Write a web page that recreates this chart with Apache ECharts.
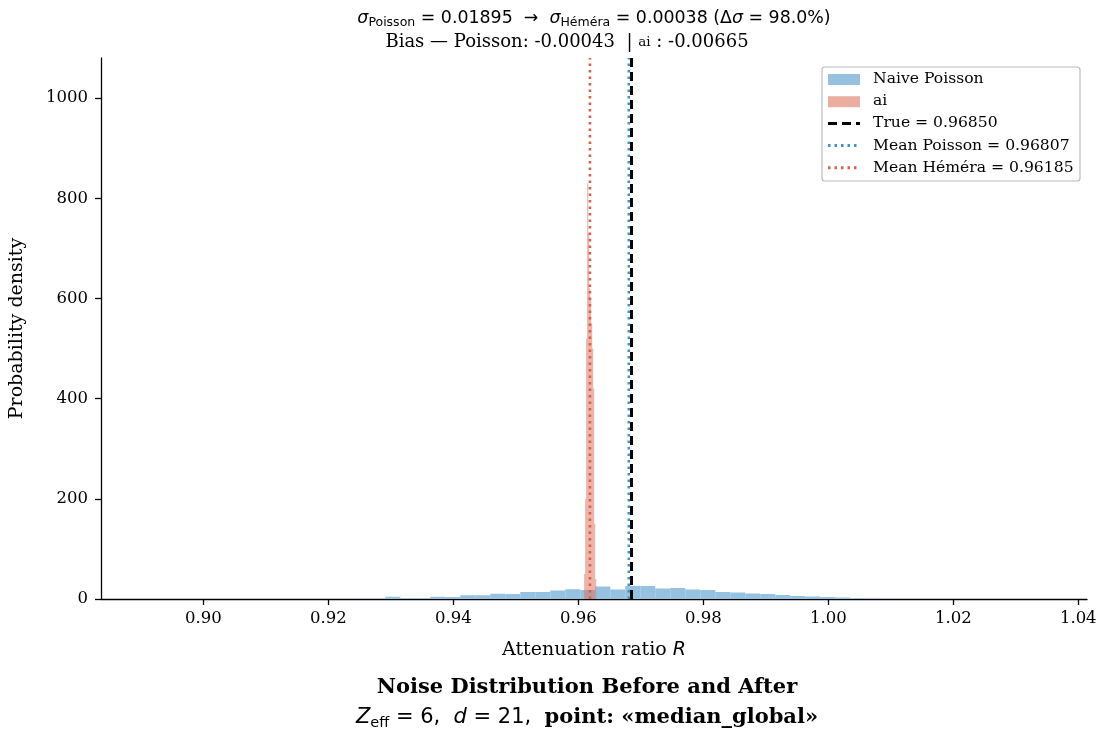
<!DOCTYPE html>
<html>
<head>
<meta charset="utf-8">
<script src="https://cdn.jsdelivr.net/npm/echarts@6/dist/echarts.min.js"></script>
<style>html,body{margin:0;padding:0;background:#fff}#c{width:1104px;height:735px}</style>
</head>
<body>
<div id="c"></div>
<script>
// ---- data ----
const poissonStart = 0.9243;
const poissonWidth = 0.0024;
const poissonDensity = [0.5, 0.5, 4.5, 1.5, 1.5, 4.5, 4, 7.5, 7.5, 10.5, 10, 14, 14, 17, 19.5, 18, 25, 19, 26, 26, 21, 22, 19, 18, 14, 13, 11, 10, 8, 6, 5, 4, 3, 1.5, 1, 0.5];
const aiStart = 0.96093;
const aiWidth = 0.00016;
const aiDensity = [50, 200, 520, 830, 730, 620, 600, 550, 500, 420, 150, 40];
const trueValue = 0.96850;
const meanPoisson = 0.96807;
const meanHemera = 0.96185;
const xTicks = [0.90, 0.92, 0.94, 0.96, 0.98, 1.00, 1.02, 1.04];
const yTicks = [0, 200, 400, 600, 800, 1000];

// ---- build ----
function bins(start, width, dens) {
  return dens.map((h, i) => [start + i * width, start + (i + 1) * width, h]);
}
const serif = 'DejaVu Serif';
const sans = 'DejaVu Sans';
const blueFill = '#97c1e0';
const redFill = 'rgba(224,118,98,0.6)';
const blueLine = '#4393c3';
const redLine = '#d6604d';
const X0 = 0.8836, X1 = 1.0414, YMAX = 1080;

function histRender(color) {
  return function (params, api) {
    const p0 = api.coord([api.value(0), api.value(2)]);
    const p1 = api.coord([api.value(1), 0]);
    return {
      type: 'rect',
      shape: { x: p0[0], y: p0[1], width: Math.max(p1[0] - p0[0], 0.5), height: p1[1] - p0[1] },
      style: { fill: color }
    };
  };
}
function vline(v, color, type, width, z) {
  return {
    type: 'line', data: [[v, 0], [v, YMAX]], symbol: 'none', silent: true, z: z,
    lineStyle: { color: color, type: type, width: width }, animation: false
  };
}

const chart = echarts.init(document.getElementById('c'));
const axisTxt = { color: '#000', fontFamily: serif, fontSize: 16.5 };

// legend (drawn as graphic)
const LX = 822, LY = 67;
const legendItems = [
  { kind: 'patch', color: blueFill, text: 'Naive Poisson' },
  { kind: 'patch', color: redFill, text: 'ai' },
  { kind: 'line', color: '#000', dash: [9, 5], w: 3, text: 'True = 0.96850' },
  { kind: 'line', color: blueLine, dash: [2.5, 4], w: 3, text: 'Mean Poisson = 0.96807' },
  { kind: 'line', color: redLine, dash: [2.5, 4], w: 3, text: 'Mean Héméra = 0.96185' }
];
const graphics = [{
  type: 'rect', shape: { x: LX, y: LY, width: 258, height: 114, r: 3 },
  style: { fill: 'rgba(255,255,255,0.85)', stroke: '#bbb', lineWidth: 1.2 }, z: 100
}];
legendItems.forEach((it, i) => {
  const cy = LY + 12 + i * 22.2;
  if (it.kind === 'patch') {
    graphics.push({ type: 'rect', shape: { x: LX + 6, y: cy - 5, width: 32, height: 11 }, style: { fill: it.color }, z: 101 });
  } else {
    graphics.push({ type: 'line', shape: { x1: LX + 6, y1: cy, x2: LX + 38, y2: cy },
      style: { stroke: it.color, lineWidth: it.w, lineDash: it.dash }, z: 101 });
  }
  graphics.push({ type: 'text', x: LX + 51, y: cy, z: 101,
    style: { text: it.text, font: '15.6px "DejaVu Serif"', fill: '#000', textVerticalAlign: 'middle' } });
});

// titles
const CX = 594;
graphics.push({
  type: 'text', x: CX, y: 18, z: 10,
  style: {
    text: '{s|σ}{sb|Poisson}{n| = 0.01895  →  }{s|σ}{sb|Héméra}{n| = 0.00038 (Δ}{s|σ}{n| = 98.0%)}',
    textAlign: 'center', textVerticalAlign: 'middle',
    rich: {
      s: { fontFamily: sans, fontStyle: 'italic', fontSize: 17.4, lineHeight: 22, fill: '#000' },
      n: { fontFamily: sans, fontSize: 17.4, lineHeight: 22, fill: '#000' },
      sb: { fontFamily: sans, fontSize: 12.5, lineHeight: 16, verticalAlign: 'bottom', fill: '#000' }
    }
  }
});
graphics.push({
  type: 'text', x: 567, y: 42, z: 10,
  style: {
    text: '{n|Bias — Poisson: -0.00043  | }{a|ai}{n| : -0.00665}',
    textAlign: 'center', textVerticalAlign: 'middle',
    rich: {
      n: { fontFamily: serif, fontSize: 18, lineHeight: 20, fill: '#000' },
      a: { fontFamily: serif, fontSize: 13.5, lineHeight: 20, fill: '#000', verticalAlign: 'middle' }
    }
  }
});
graphics.push({
  type: 'text', x: 587, y: 688, z: 10,
  style: { text: 'Noise Distribution Before and After', font: 'bold 21px "DejaVu Serif"', fill: '#000',
    textAlign: 'center', textVerticalAlign: 'middle' }
});
graphics.push({
  type: 'text', x: 587, y: 718, z: 10,
  style: {
    text: '{i|Z}{sb|eff}{m| = 6,  }{i|d}{m| = 21,  }{b|point: «median_global»}',
    textAlign: 'center', textVerticalAlign: 'middle',
    rich: {
      i: { fontFamily: sans, fontStyle: 'italic', fontSize: 21, lineHeight: 26, fill: '#000' },
      m: { fontFamily: sans, fontSize: 21, lineHeight: 26, fill: '#000' },
      sb: { fontFamily: sans, fontSize: 14.5, lineHeight: 18, verticalAlign: 'bottom', fill: '#000' },
      b: { fontFamily: serif, fontWeight: 'bold', fontSize: 21, lineHeight: 26, fill: '#000' }
    }
  }
});

chart.setOption({
  animation: false,
  grid: { left: 101, right: 17, top: 58, bottom: 136, containLabel: false },
  xAxis: {
    type: 'value', min: X0, max: X1,
    name: '{t|Attenuation ratio }{r|R}', nameLocation: 'middle', nameGap: 42,
    nameTextStyle: { rich: {
      t: { fontFamily: serif, fontSize: 19, color: '#000' },
      r: { fontFamily: sans, fontStyle: 'italic', fontSize: 19, color: '#000' } } },
    axisLine: { show: true, lineStyle: { color: '#000', width: 1.3 } },
    axisTick: { show: true, customValues: xTicks, length: 6, lineStyle: { color: '#000', width: 1.3 } },
    axisLabel: { customValues: xTicks, formatter: v => v.toFixed(2), margin: 11, ...axisTxt },
    splitLine: { show: false }
  },
  yAxis: {
    type: 'value', min: 0, max: YMAX,
    name: 'Probability density', nameLocation: 'middle', nameGap: 74,
    nameTextStyle: { fontFamily: serif, fontSize: 19, color: '#000' },
    axisLine: { show: true, lineStyle: { color: '#000', width: 1.3 } },
    axisTick: { show: true, customValues: yTicks, length: 6, lineStyle: { color: '#000', width: 1.3 } },
    axisLabel: { customValues: yTicks, formatter: v => String(v), margin: 13, ...axisTxt },
    splitLine: { show: false }
  },
  series: [
    { type: 'custom', name: 'Naive Poisson', renderItem: histRender(blueFill), data: bins(poissonStart, poissonWidth, poissonDensity),
      encode: { x: [0, 1], y: 2 }, z: 2, silent: true },
    { type: 'custom', name: 'ai', renderItem: histRender(redFill), data: bins(aiStart, aiWidth, aiDensity),
      encode: { x: [0, 1], y: 2 }, z: 3, silent: true },
    vline(trueValue, '#000', [9, 5], 3, 4),
    vline(meanPoisson, blueLine, [2.5, 4], 2.6, 5),
    vline(meanHemera, redLine, [2.5, 4], 2.6, 5)
  ],
  graphic: graphics
});
</script>
</body>
</html>
